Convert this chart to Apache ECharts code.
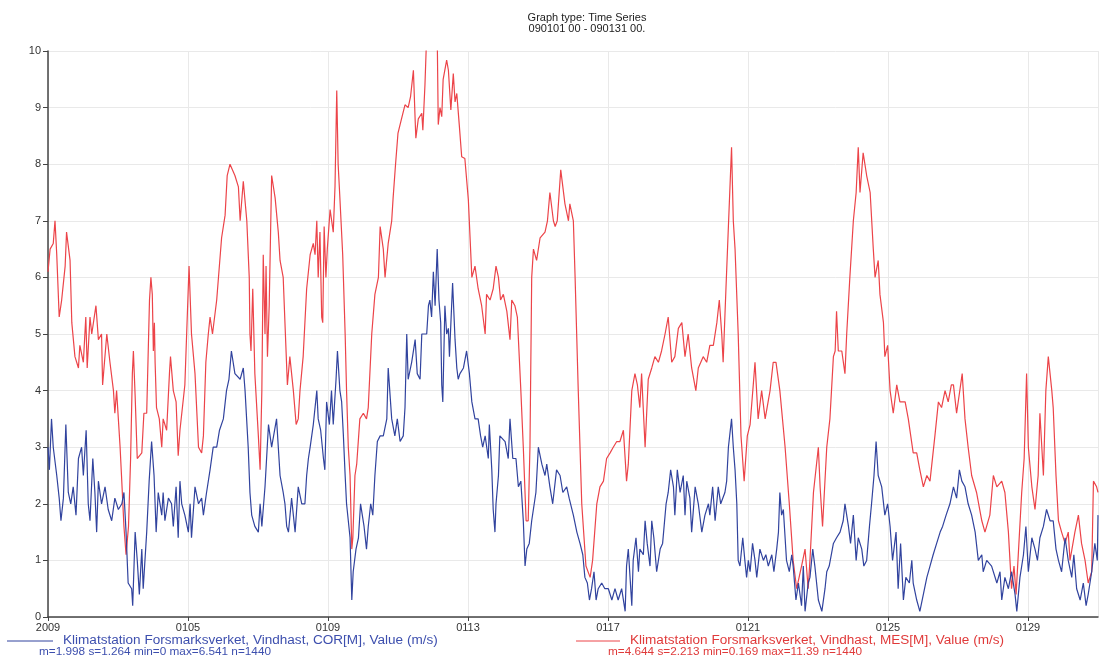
<!DOCTYPE html>
<html><head><meta charset="utf-8">
<script src="https://cdn.jsdelivr.net/npm/echarts@6/dist/echarts.min.js"></script>
<style>html,body{margin:0;padding:0;background:#fff}#c{width:1099px;height:659px}</style>
</head><body><div id="c"></div>
<script>
const titleLines = ['Graph type: Time Series', '090101 00 - 090131 00.'];
const xTickLabels = ['2009','0105','0109','0113','0117','0121','0125','0129'];
const seriesNames = ['Klimatstation Forsmarksverket, Vindhast, COR[M], Value (m/s)',
                     'Klimatstation Forsmarksverket, Vindhast, MES[M], Value (m/s)'];
const seriesStats = ['m=1.998 s=1.264 min=0 max=6.541 n=1440',
                     'm=4.644 s=2.213 min=0.169 max=11.39 n=1440'];
// [days since 2009-01-01 00:00, wind speed m/s]
const corSeries = [
[0,3.0],[0.04,2.6],[0.1,3.5],[0.15,3.0],[0.25,2.5],[0.32,2.1],[0.37,1.7],[0.44,2.1],[0.51,3.4],[0.58,2.2],[0.65,2.0],[0.72,2.3],[0.8,1.8],[0.87,2.8],[0.96,3.0],
[1.01,2.5],[1.09,3.3],[1.15,2.0],[1.2,1.7],[1.28,2.8],[1.34,2.2],[1.39,1.5],[1.44,2.4],[1.53,2.0],[1.63,2.3],[1.72,1.9],[1.82,1.7],[1.91,2.1],
[2.01,1.9],[2.11,2.0],[2.17,2.2],[2.23,1.5],[2.29,0.6],[2.39,0.5],[2.42,0.2],[2.49,1.5],[2.55,1.0],[2.61,0.4],[2.68,1.2],[2.72,0.5],[2.82,1.5],[2.89,2.4],[2.96,3.1],
[3.03,2.5],[3.09,1.5],[3.15,2.2],[3.25,1.8],[3.29,2.2],[3.34,1.7],[3.44,2.1],[3.53,2.0],[3.58,1.6],[3.66,2.3],[3.72,1.4],[3.77,2.4],[3.82,2.0],[3.91,1.8],
[4.01,1.5],[4.06,2.0],[4.1,1.4],[4.2,2.3],[4.3,2.0],[4.39,2.1],[4.44,1.8],[4.53,2.2],[4.63,2.6],[4.72,3.0],[4.82,3.0],[4.9,3.3],
[5.01,3.5],[5.1,4.0],[5.17,4.2],[5.24,4.7],[5.34,4.3],[5.49,4.2],[5.58,4.4],[5.63,4.0],[5.72,3.0],[5.77,2.2],[5.82,1.8],[5.91,1.6],
[6.01,1.5],[6.06,2.0],[6.11,1.6],[6.2,2.3],[6.3,3.4],[6.39,3.0],[6.53,3.5],[6.63,2.5],[6.72,2.2],[6.77,2.0],[6.82,1.6],[6.87,1.5],[6.96,2.1],
[7.06,1.5],[7.15,2.3],[7.25,2.0],[7.34,2.0],[7.39,2.5],[7.44,2.8],[7.49,3.0],[7.58,3.4],[7.63,3.7],[7.68,4.0],[7.72,3.5],[7.79,3.3],[7.87,2.8],[7.91,2.6],[7.96,3.8],
[8.04,3.4],[8.1,4.0],[8.15,3.4],[8.23,4.2],[8.27,4.7],[8.34,4.0],[8.39,3.8],[8.44,3.2],[8.49,2.5],[8.53,2.0],[8.63,1.4],[8.68,0.3],[8.72,0.8],[8.8,1.2],[8.87,1.4],[8.93,2.0],
[9.03,1.6],[9.1,1.2],[9.15,1.6],[9.22,2.0],[9.28,1.8],[9.34,2.5],[9.41,3.1],[9.49,3.2],[9.58,3.2],[9.68,3.5],[9.72,4.4],[9.82,3.5],[9.91,3.2],[9.98,3.5],
[10.06,3.1],[10.15,3.2],[10.2,3.7],[10.25,5.0],[10.29,4.2],[10.39,4.5],[10.49,4.9],[10.55,4.3],[10.63,4.2],[10.68,5.0],[10.82,5.0],[10.87,5.5],[10.91,5.6],[10.96,5.3],
[11.01,6.1],[11.06,5.5],[11.12,6.5],[11.17,5.6],[11.22,5.2],[11.25,4.1],[11.28,3.8],[11.34,5.5],[11.39,5.0],[11.44,5.1],[11.47,4.6],[11.56,5.9],[11.63,4.9],[11.68,4.4],[11.72,4.2],[11.77,4.3],[11.87,4.4],[11.96,4.7],
[12.04,4.3],[12.11,3.8],[12.2,3.5],[12.29,3.5],[12.36,3.2],[12.42,3.0],[12.49,3.2],[12.58,2.8],[12.61,3.4],[12.68,2.6],[12.72,1.9],[12.77,1.5],[12.8,2.0],[12.87,2.5],[12.91,3.2],
[13.06,3.1],[13.15,2.8],[13.2,3.5],[13.28,2.8],[13.37,2.8],[13.44,2.3],[13.51,2.4],[13.58,1.7],[13.63,0.9],[13.68,1.2],[13.75,1.3],[13.82,1.7],[13.94,2.2],
[14.01,3.0],[14.11,2.7],[14.2,2.5],[14.25,2.7],[14.34,2.3],[14.42,2.0],[14.53,2.6],[14.63,2.5],[14.71,2.2],[14.82,2.3],[14.89,2.1],
[15.01,1.8],[15.11,1.5],[15.2,1.3],[15.28,1.1],[15.34,0.7],[15.41,0.6],[15.47,0.3],[15.53,0.5],[15.6,0.8],[15.66,0.3],[15.72,0.5],[15.82,0.6],[15.91,0.5],
[16.01,0.5],[16.11,0.3],[16.2,0.5],[16.29,0.3],[16.39,0.5],[16.49,0.1],[16.53,0.9],[16.58,1.2],[16.63,0.7],[16.68,0.2],[16.72,1.0],[16.8,1.4],[16.87,0.8],[16.91,1.2],
[17.01,1.1],[17.06,1.7],[17.12,1.3],[17.2,0.9],[17.25,1.7],[17.31,1.4],[17.39,0.8],[17.49,1.2],[17.56,1.3],[17.66,2.0],[17.72,2.2],[17.79,2.6],[17.87,2.3],[17.91,1.8],[17.98,2.6],
[18.06,2.2],[18.15,2.5],[18.2,1.8],[18.25,2.4],[18.34,2.1],[18.39,1.5],[18.49,2.3],[18.58,2.0],[18.68,1.5],[18.77,1.8],[18.87,2.0],[18.91,1.8],[18.99,2.3],
[19.06,1.7],[19.15,2.3],[19.22,2.0],[19.34,2.2],[19.39,2.4],[19.44,3.0],[19.53,3.5],[19.58,3.0],[19.63,2.6],[19.68,2.0],[19.72,1.0],[19.77,0.9],[19.85,1.4],[19.91,1.0],[19.96,0.7],
[20.01,1.0],[20.06,0.8],[20.13,1.3],[20.2,1.0],[20.25,0.7],[20.34,1.2],[20.44,1.0],[20.51,1.1],[20.58,0.9],[20.68,1.1],[20.74,0.8],[20.82,1.2],[20.87,1.5],[20.91,2.2],[20.96,1.8],
[21.01,1.9],[21.06,1.4],[21.1,1.0],[21.18,0.8],[21.25,1.1],[21.29,0.9],[21.37,0.3],[21.44,0.6],[21.53,0.2],[21.58,0.9],[21.63,0.1],[21.72,0.6],[21.77,0.7],[21.85,1.2],[21.91,0.9],
[22.01,0.3],[22.11,0.1],[22.2,0.5],[22.25,0.8],[22.32,0.9],[22.44,1.3],[22.53,1.4],[22.63,1.5],[22.72,1.7],[22.77,2.0],[22.87,1.6],[22.93,1.3],
[23.01,1.8],[23.09,1.0],[23.15,1.4],[23.25,1.2],[23.31,0.9],[23.39,1.0],[23.47,1.6],[23.53,2.0],[23.6,2.5],[23.66,3.1],[23.72,2.5],[23.82,2.3],[23.91,1.8],[23.99,2.0],
[24.06,1.6],[24.13,1.0],[24.23,1.5],[24.29,0.5],[24.36,1.3],[24.44,0.3],[24.51,0.7],[24.61,0.6],[24.68,1.0],[24.72,0.6],[24.82,0.3],[24.91,0.1],
[25.01,0.4],[25.11,0.7],[25.2,0.9],[25.29,1.1],[25.39,1.3],[25.49,1.5],[25.56,1.6],[25.66,1.8],[25.77,2.0],[25.87,2.3],[25.96,2.1],
[26.04,2.6],[26.11,2.4],[26.2,2.3],[26.29,2.0],[26.39,1.8],[26.49,1.5],[26.58,1.0],[26.68,1.1],[26.72,0.8],[26.82,1.0],[26.96,0.9],
[27.11,0.6],[27.2,0.8],[27.25,0.3],[27.34,0.7],[27.44,0.5],[27.53,0.8],[27.63,0.4],[27.68,0.1],[27.77,0.7],[27.87,1.1],[27.94,1.6],
[28.01,0.8],[28.11,1.4],[28.2,1.2],[28.27,1.0],[28.34,1.4],[28.44,1.6],[28.53,1.9],[28.63,1.7],[28.72,1.7],[28.8,1.2],[28.87,1.0],[28.96,0.8],
[29.06,1.4],[29.15,1.0],[29.25,0.7],[29.31,1.1],[29.39,0.5],[29.49,0.3],[29.58,0.6],[29.66,0.2],[29.72,0.4],[29.82,0.8],[29.91,1.3],[29.98,1.0],[30,1.8]
];
const mesSeries = [
[0,6.1],[0.06,6.5],[0.15,6.6],[0.2,7.0],[0.25,6.4],[0.32,5.3],[0.39,5.6],[0.49,6.2],[0.53,6.8],[0.63,6.3],[0.68,5.2],[0.77,4.6],[0.87,4.4],[0.91,4.8],
[1.01,4.5],[1.08,5.3],[1.12,4.4],[1.2,5.3],[1.25,5.0],[1.37,5.5],[1.44,4.9],[1.53,5.0],[1.56,4.1],[1.68,5.0],[1.77,4.5],[1.87,4.0],[1.91,3.6],[1.96,4.0],
[2.01,4.0],[2.06,3.0],[2.1,2.5],[2.17,1.6],[2.23,1.1],[2.3,1.6],[2.36,2.8],[2.41,4.3],[2.44,4.7],[2.49,3.9],[2.55,2.8],[2.68,2.9],[2.74,3.6],[2.82,3.6],[2.9,5.6],[2.94,6.0],[2.98,5.7],
[3.01,4.7],[3.04,5.2],[3.06,4.5],[3.1,3.7],[3.18,3.5],[3.25,3.0],[3.29,3.5],[3.39,3.3],[3.47,4.3],[3.5,4.6],[3.58,4.0],[3.66,3.8],[3.72,2.85],[3.77,3.3],[3.91,4.1],
[4.03,6.2],[4.1,5.0],[4.2,4.3],[4.3,3.0],[4.39,2.9],[4.44,3.2],[4.51,4.5],[4.58,5.0],[4.63,5.3],[4.7,5.0],[4.82,5.6],[4.96,6.7],
[5.06,7.1],[5.12,7.8],[5.2,8.0],[5.34,7.8],[5.44,7.6],[5.49,7.0],[5.58,7.7],[5.68,7.0],[5.75,6.0],[5.77,5.0],[5.8,4.7],[5.85,5.8],[5.91,4.3],
[6.01,3.2],[6.06,2.6],[6.11,4.0],[6.15,6.4],[6.2,5.0],[6.23,6.2],[6.27,4.6],[6.32,5.5],[6.39,7.8],[6.49,7.4],[6.58,6.8],[6.63,6.3],[6.72,6.0],[6.77,5.2],[6.84,4.1],[6.91,4.6],
[7.01,4.0],[7.09,3.4],[7.15,3.5],[7.2,4.0],[7.29,4.6],[7.39,5.8],[7.49,6.4],[7.58,6.6],[7.63,6.4],[7.68,7.0],[7.72,6.0],[7.77,6.8],[7.82,5.3],[7.85,5.2],[7.89,6.9],[7.94,6.0],[7.98,6.5],
[8.06,7.2],[8.15,6.8],[8.2,7.6],[8.25,9.3],[8.29,8.0],[8.34,7.4],[8.42,6.4],[8.49,5.0],[8.53,4.0],[8.58,3.0],[8.63,2.5],[8.68,1.2],[8.71,1.4],[8.77,2.5],[8.82,2.7],[8.91,3.5],
[9.01,3.6],[9.1,3.5],[9.15,3.7],[9.25,5.0],[9.34,5.7],[9.44,6.0],[9.49,6.9],[9.58,6.5],[9.63,6.0],[9.72,6.6],[9.82,7.0],[9.86,7.4],[9.93,8.0],
[10.0,8.55],[10.1,8.8],[10.2,9.05],[10.29,9.0],[10.36,9.2],[10.44,9.66],[10.49,8.78],[10.51,8.46],[10.58,8.8],[10.68,8.9],[10.71,8.6],[10.77,9.4],[10.82,10.3],[10.9,11.0],[10.97,11.39],
[11.05,10.9],[11.12,10.3],[11.15,8.7],[11.2,9.0],[11.25,8.84],[11.29,9.5],[11.39,9.84],[11.44,9.66],[11.51,8.96],[11.58,9.6],[11.63,9.1],[11.68,9.25],[11.75,8.7],[11.82,8.13],[11.91,8.1],
[12.01,7.37],[12.11,6.0],[12.2,6.2],[12.29,5.8],[12.39,5.5],[12.49,5.0],[12.53,5.7],[12.63,5.6],[12.72,5.8],[12.8,6.2],[12.87,6.0],[12.93,5.6],
[13.01,5.7],[13.11,5.4],[13.2,4.9],[13.25,5.6],[13.34,5.5],[13.41,5.3],[13.51,4.0],[13.58,3.0],[13.66,1.7],[13.72,1.7],[13.77,3.0],[13.82,6.0],[13.87,6.5],[13.96,6.3],
[14.06,6.7],[14.2,6.8],[14.27,7.0],[14.34,7.5],[14.44,7.0],[14.49,6.9],[14.55,7.0],[14.65,7.9],[14.77,7.3],[14.87,7.0],[14.91,7.3],
[15.01,7.0],[15.06,6.0],[15.15,4.0],[15.25,2.0],[15.37,0.9],[15.49,0.7],[15.56,1.0],[15.68,2.0],[15.77,2.3],[15.87,2.4],[15.96,2.8],
[16.06,2.9],[16.15,3.0],[16.25,3.1],[16.34,3.1],[16.44,3.3],[16.53,2.4],[16.58,2.7],[16.68,4.0],[16.77,4.3],[16.84,4.1],[16.91,3.7],[16.96,4.3],
[17.06,3.0],[17.15,4.2],[17.25,4.4],[17.34,4.6],[17.44,4.5],[17.53,4.7],[17.63,5.0],[17.72,5.3],[17.82,4.5],[17.91,4.6],
[18.01,5.1],[18.11,5.2],[18.2,4.6],[18.29,5.0],[18.39,4.4],[18.51,4.0],[18.58,4.4],[18.63,4.4],[18.72,4.6],[18.82,4.5],[18.91,4.8],
[19.01,4.8],[19.11,5.2],[19.18,5.6],[19.25,5.0],[19.29,4.5],[19.37,5.8],[19.44,6.9],[19.53,8.3],[19.58,7.0],[19.63,6.5],[19.72,5.0],[19.8,3.2],[19.85,3.2],[19.89,2.4],[19.98,3.2],
[20.06,3.4],[20.15,4.1],[20.2,4.5],[20.29,3.5],[20.39,4.0],[20.49,3.5],[20.63,4.0],[20.72,4.5],[20.8,4.5],[20.91,4.0],
[21.06,3.0],[21.18,2.0],[21.29,1.0],[21.39,0.5],[21.53,0.9],[21.63,1.2],[21.72,0.5],[21.77,1.0],[21.87,2.2],[21.91,2.2],
[22.01,3.0],[22.06,2.3],[22.13,1.6],[22.25,3.0],[22.34,3.5],[22.44,4.6],[22.49,4.7],[22.53,5.4],[22.58,4.7],[22.68,4.7],[22.77,4.3],[22.82,5.0],[22.91,6.0],
[23.01,7.0],[23.09,7.5],[23.15,8.3],[23.2,7.5],[23.29,8.2],[23.39,7.8],[23.49,7.5],[23.58,6.5],[23.63,6.0],[23.72,6.3],[23.77,5.7],[23.87,5.2],[23.91,4.6],[23.99,4.8],
[24.06,4.0],[24.15,3.6],[24.25,4.1],[24.34,3.8],[24.49,3.8],[24.58,3.5],[24.72,2.9],[24.82,2.9],[24.91,2.6],
[25.01,2.3],[25.11,2.5],[25.2,2.4],[25.34,3.2],[25.44,3.8],[25.53,3.7],[25.63,4.0],[25.72,3.8],[25.81,4.1],[25.87,4.1],[25.96,3.6],
[26.12,4.3],[26.2,3.5],[26.29,3.0],[26.39,2.5],[26.53,2.2],[26.68,1.7],[26.77,1.5],[26.91,1.8],
[27.01,2.5],[27.11,2.3],[27.25,2.4],[27.34,2.2],[27.39,2.2],[27.44,1.5],[27.53,0.5],[27.6,0.9],[27.66,0.4],[27.82,2.2],[27.89,2.8],[27.96,4.3],
[28.01,3.0],[28.11,2.3],[28.2,1.9],[28.29,2.5],[28.34,3.6],[28.44,2.5],[28.51,4.0],[28.58,4.6],[28.68,4.0],[28.72,3.7],[28.8,2.5],[28.87,1.7],[28.96,1.5],
[29.06,1.3],[29.15,1.5],[29.2,1.0],[29.34,1.5],[29.44,1.8],[29.53,1.3],[29.63,1.0],[29.72,0.6],[29.82,0.8],[29.87,2.4],[29.96,2.3],[30,2.2]
];

const FONT = '"Liberation Sans", Arial, sans-serif';
const BLUE = '#31439e';
const RED = '#ec4449';
const chart = echarts.init(document.getElementById('c'), null, {renderer: 'canvas'});
chart.setOption({
  animation: false,
  backgroundColor: '#fff',
  title: {
    text: titleLines.join('\n'),
    left: 582, top: 7, textAlign: 'center',
    textStyle: {fontFamily: FONT, fontSize: 11, fontWeight: 'normal', color: '#222', lineHeight: 11, align: 'center'}
  },
  grid: {left: 48, right: 1, top: 51, bottom: 42, containLabel: false},
  xAxis: {
    type: 'value', min: 0, max: 30, interval: 4,
    axisLine: {show: true, onZero: false, lineStyle: {color: '#444', width: 1.5}},
    axisTick: {show: true, length: 4, inside: false, lineStyle: {color: '#444'}},
    axisLabel: {showMaxLabel: false, margin: 5, fontFamily: FONT, fontSize: 11, color: '#333',
      formatter: v => xTickLabels[Math.round(v / 4)] || ''},
    splitLine: {show: true, lineStyle: {color: '#e9e9e9', width: 1}}
  },
  yAxis: {
    type: 'value', min: 0, max: 10, interval: 1,
    axisLine: {show: true, lineStyle: {color: '#444', width: 1.5}},
    axisTick: {show: true, length: 5, lineStyle: {color: '#444'}},
    axisLabel: {margin: 7, fontFamily: FONT, fontSize: 11, color: '#333'},
    splitLine: {show: true, lineStyle: {color: '#e9e9e9', width: 1}}
  },
  series: [
    {name: seriesNames[1], type: 'line', data: mesSeries, showSymbol: false, symbol: 'none', clip: true,
     lineStyle: {color: RED, width: 1.2}, z: 2},
    {name: seriesNames[0], type: 'line', data: corSeries, showSymbol: false, symbol: 'none', clip: true,
     lineStyle: {color: BLUE, width: 1.2}, z: 3}
  ],
  graphic: [
    {type: 'line', shape: {x1: 7, y1: 641, x2: 53, y2: 641}, style: {stroke: BLUE, lineWidth: 1}},
    {type: 'text', x: 63, y: 641, scaleX: 1.13, style: {text: seriesNames[0], fill: '#3d4fae', font: '12px ' + FONT, textVerticalAlign: 'middle'}},
    {type: 'text', x: 39, y: 652, scaleX: 1.07, style: {text: seriesStats[0], fill: '#3d4fae', font: '11px ' + FONT, textVerticalAlign: 'middle'}},
    {type: 'line', shape: {x1: 576, y1: 641, x2: 620, y2: 641}, style: {stroke: RED, lineWidth: 1}},
    {type: 'text', x: 630, y: 641, scaleX: 1.13, style: {text: seriesNames[1], fill: '#e03a3a', font: '12px ' + FONT, textVerticalAlign: 'middle'}},
    {type: 'text', x: 608, y: 652, scaleX: 1.07, style: {text: seriesStats[1], fill: '#e03a3a', font: '11px ' + FONT, textVerticalAlign: 'middle'}}
  ]
});
</script></body></html>
